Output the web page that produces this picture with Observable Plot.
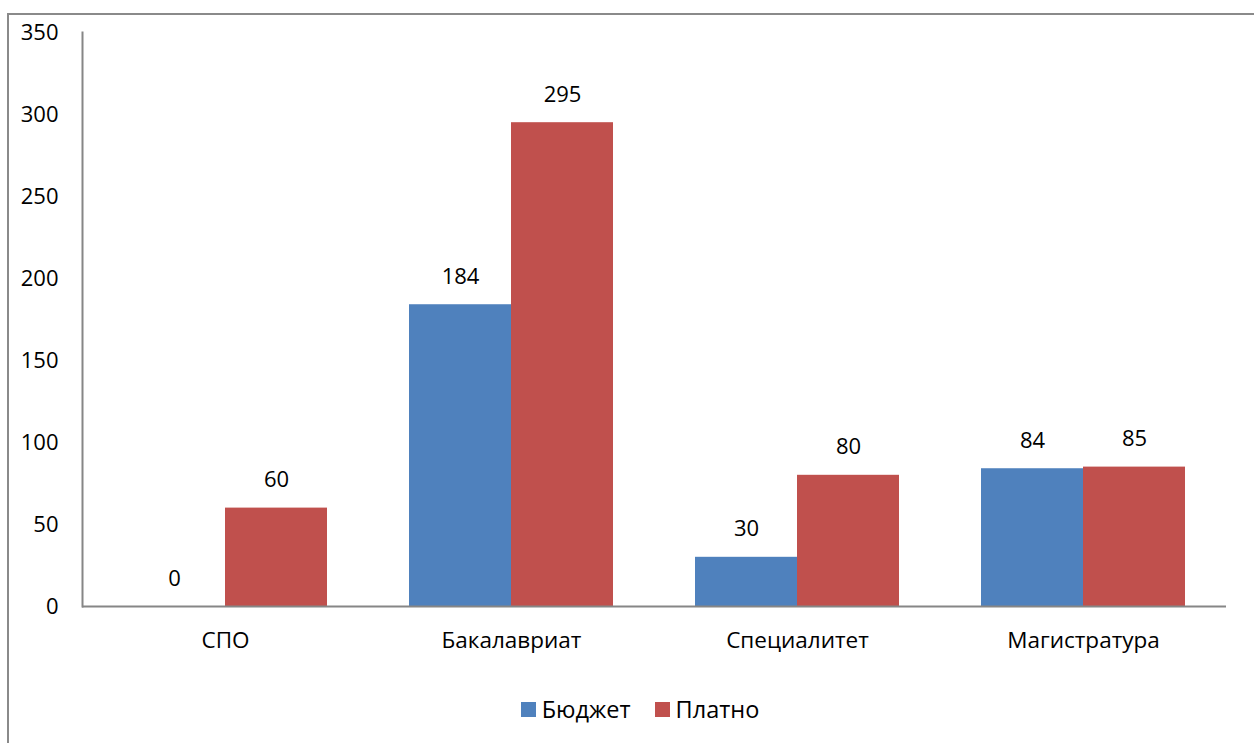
<!DOCTYPE html>
<html>
<head>
<meta charset="utf-8">
<script src="https://cdn.jsdelivr.net/npm/d3@7"></script>
<script src="https://cdn.jsdelivr.net/npm/@observablehq/plot@0.6"></script>
<style>
  html, body { margin: 0; padding: 0; background: #fff; }
  body { width: 1254px; height: 743px; position: relative; overflow: hidden; font-family: "Open Sans", sans-serif; }
  #border { position: absolute; left: 7px; top: 13px; width: 1300px; height: 800px; border-top: 2px solid #8a8a8a; border-left: 2px solid #8a8a8a; }
  #chart { position: absolute; left: 0; top: 0; }
  #legend { position: absolute; top: 694px; left: 0; width: 1254px; display: flex; justify-content: center; gap: 24px; font-size: 23.5px; line-height: 30px; color: #000; padding-left: 26px; box-sizing: border-box; }
  .item { display: flex; align-items: center; gap: 6px; }
  .sw { width: 15px; height: 15px; display: inline-block; }
</style>
</head>
<body>
<div id="border"></div>
<div id="chart"></div>
<div id="legend"></div>
<script>
const categories = ["СПО", "Бакалавриат", "Специалитет", "Магистратура"];
const series = ["Бюджет", "Платно"];
const budget = [0, 184, 30, 84];
const paid = [60, 295, 80, 85];
const yTicks = [0, 50, 100, 150, 200, 250, 300, 350];
const colors = ["#4F81BD", "#C0504D"];

const data = [];
categories.forEach((c, i) => {
  data.push({category: c, series: series[0], value: budget[i]});
  data.push({category: c, series: series[1], value: paid[i]});
});

const axisColor = "#868686";
const chart = Plot.plot({
  width: 1254,
  height: 680,
  marginLeft: 81,
  marginRight: 27,
  marginTop: 32,
  marginBottom: 74,
  style: {fontFamily: "'Open Sans', sans-serif", fontSize: "22px", color: "#000", background: "transparent"},
  fx: {domain: categories, padding: 0, label: null, axis: null},
  x: {domain: series, paddingInner: 0, paddingOuter: 0.39, axis: null},
  y: {domain: [0, 350], axis: null},
  color: {domain: series, range: colors},
  marks: [
    Plot.barY(data, {fx: "category", x: "series", y: "value", fill: "series"}),
    Plot.ruleY([0], {stroke: axisColor, strokeWidth: 2}),
    Plot.frame({anchor: "left", stroke: axisColor, strokeWidth: 2, fx: () => categories[0]}),
    Plot.axisY(yTicks, {anchor: "left", tickSize: 0, tickPadding: 24, fontSize: 22, label: null, fill: "#000"}),
    Plot.axisFx({anchor: "bottom", tickSize: 0, tickPadding: 26, fontSize: 22.5, label: null, fill: "#000"}),
    Plot.text(data, {fx: "category", x: "series", y: "value", text: d => String(d.value), dy: -28, fontSize: 22, fill: "#000"})
  ]
});
document.getElementById("chart").appendChild(chart);

const legend = document.getElementById("legend");
series.forEach((s, i) => {
  const item = document.createElement("div");
  item.className = "item";
  const sw = document.createElement("span");
  sw.className = "sw";
  sw.style.background = colors[i];
  const t = document.createElement("span");
  t.textContent = s;
  item.appendChild(sw);
  item.appendChild(t);
  legend.appendChild(item);
});
</script>
</body>
</html>
